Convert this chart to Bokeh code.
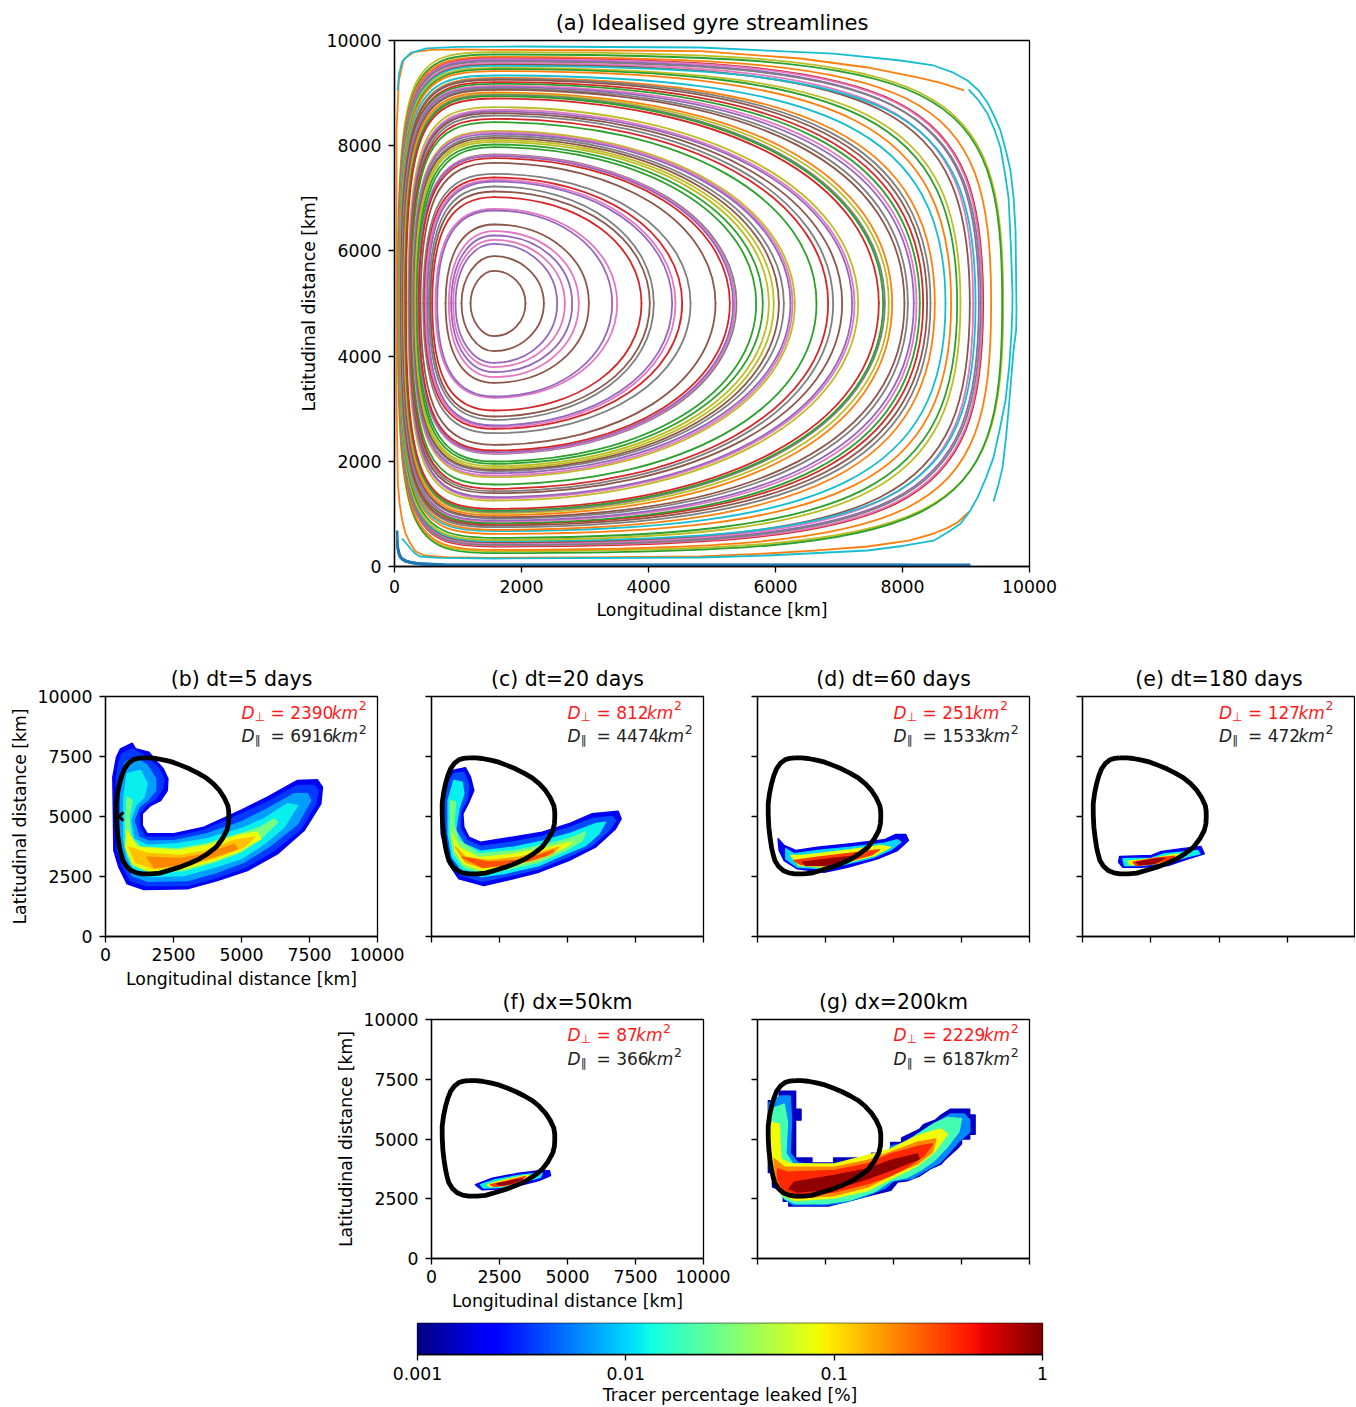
from bokeh.plotting import figure
from bokeh.layouts import column, row
from bokeh.models import Spacer, Range1d, FixedTicker
from bokeh.core.properties import value
from bokeh.embed import file_html
from bokeh.resources import INLINE
import numpy as np

FONT = "DejaVu Sans"
TAB = dict(blue="#1f77b4", orange="#ff7f0e", green="#2ca02c", red="#d62728", purple="#9467bd",
           brown="#8c564b", pink="#e377c2", gray="#7f7f7f", olive="#bcbd22", cyan="#17becf")

# ---- Panel (a): streamlines, outermost first (km)
sl_color = ["olive","green","orange","red","pink","purple","gray","pink","brown","cyan","olive","green","orange","cyan",
            "orange","gray","brown","red","green","pink","purple","gray","brown","orange","olive","gray","green","red",
            "olive","pink","purple","brown","gray","red","green","olive","pink","purple","gray","brown","olive","olive",
            "green","green","gray","pink","purple","red","brown","gray","red","pink","purple","gray","brown","red",
            "pink","purple","brown","pink","purple","pink","purple","brown","brown"]
sl_top = [9778,9734,9690,9658,9645,9620,9600,9569,9540,9518,9480,9455,9417,9335,9290,9271,9252,9208,9176,9138,9113,9087,
          9062,9011,8986,8967,8942,8897,8733,8682,8650,8618,8574,8511,8447,8283,8257,8226,8188,8149,8111,8073,8023,7972,
          7833,7820,7801,7763,7674,7465,7395,7351,7319,7224,7129,7022,6800,6768,6502,6375,6293,6210,6134,5900,5621]
sl_bottom = [292,254,317,380,399,431,410,444,460,482,507,545,621,672,697,748,780,811,824,856,875,913,938,976,1014,1039,
             1065,1096,1255,1293,1318,1394,1432,1477,1559,1698,1730,1774,1812,1838,1869,1907,1952,1996,2142,2155,2174,
             2205,2313,2535,2617,2649,2681,2788,2852,2966,3207,3232,3492,3600,3695,3790,3872,4094,4379]
sl_right = [9586,9570,9396,9270,9254,9202,9230,9113,9060,9150,8913,8861,8766,8677,8509,8441,8388,8325,8273,8220,8178,8084,
            8031,7837,7785,7722,7696,7627,7302,7244,7207,7050,6908,6829,6646,6304,6268,6236,6131,6053,5974,5895,5800,5696,
            5386,5360,5333,5281,5055,4662,4530,4425,4373,4084,4021,3890,3507,3428,3061,2903,2798,2683,2562,2352,2063]
sl_left = [50,55,58,60,62,65,66,68,70,72,75,78,82,88,95,100,105,110,115,120,125,130,135,150,155,165,170,180,215,225,230,
           240,250,258,270,285,290,295,305,315,325,335,350,368,375,378,381,384,410,452,473,489,515,541,567,594,646,672,
           804,856,893,924,961,1055,1197]
sl_corner_right = [.90,.90,.88,.86,.86,.85,.85,.84,.83,.84,.80,.79,.77,.75,.72,.71,.70,.69,.68,.67,.66,.65,.64,.62,.61,.60,
                   .60,.60,.58,.58,.58,.58,.58,.58,.58,.57,.57,.57,.57,.57,.57,.57,.57,.57,.57,.57,.57,.57,.57,.57,.57,
                   .57,.57,.57,.57,.57,.57,.57,.57,.57,.57,.56,.56,.55,.55]
sl_corner_left = [.96,.95,.95,.94,.94,.94,.94,.93,.93,.93,.93,.92,.92,.92,.91,.91,.91,.90,.90,.90,.90,.89,.89,.89,.88,.88,
                  .88,.88,.87,.86,.86,.86,.85,.85,.85,.84,.84,.84,.83,.83,.82,.82,.81,.80,.80,.80,.80,.79,.78,.77,.77,
                  .76,.76,.75,.75,.74,.72,.72,.68,.65,.64,.63,.62,.58,.56]
sl_x_extreme = 1566
sl_y_extreme = 5000

cyan_a_x = [50,70,120,250,500,1000,2000,4819,6913,7968,8488,8780,9023,9200,9338,9450,9543,9630,9700,9750,9780,9795,9790,9748,9710,9670,9630,9575,9510,9433]
cyan_a_y = [9050,9350,9600,9760,9850,9880,9886,9867,9750,9620,9525,9400,9240,9050,8820,8550,8290,7900,7530,7000,6390,4870,4500,4105,3550,2970,2450,1880,1550,1235]
cyan_b_x = [9040,9200,9338,9450,9543,9610,9670,9710,9732,9730,9716,9680,9622,9530,9433,9320,9181,9050,8913,8700,8488,8000,7449,5874,4819,1566,700,400,320,252,173,120]
cyan_b_y = [9070,8860,8610,8300,7965,7500,7015,6000,5200,4870,4430,3800,3155,2600,2075,1700,1310,1030,815,640,490,390,304,209,171,152,165,190,250,342,456,530]
orange_x = [9050,8866,8700,8488,8100,7449,6600,5874,4819,3000,1566,800,462,330,252,170,121,80,53,32,32,32,69,147,305,567,1000,1566,3000,4819,6394,7449,8236,8620,8971]
orange_y = [1045,837,730,627,490,380,300,247,190,172,165,180,209,290,431,640,875,1200,1570,3160,5057,8290,9240,9650,9778,9823,9830,9823,9815,9797,9658,9487,9297,9190,9050]
blue_x = [[42,50,90,250,500,1566,5070],[42,60,120,300,600,1566,7076],[45,70,150,350,700,1566,8073],[50,90,180,400,800,1566,9070]]
blue_y = [[685,350,170,70,30,15,15],[500,280,130,60,30,25,25],[420,220,110,60,35,30,30],[350,180,90,55,40,35,35]]

# ---- Leak-contour (black) and plume outlines, km; concentration of each nested level in %
loop_x = [1372,1620,1862,2170,2475,2780,3087,3400,3700,3960,4190,4360,4496,4530,4533,4520,4459,4290,4067,3780,3455,3100,2720,2350,1985,1680,1372,1150,943,770,637,570,515,460,417,395,392,440,515,600,698,840,1005,1180,1372]
loop_y = [7445,7440,7417,7350,7264,7130,6987,6810,6612,6370,6084,5790,5459,5220,4973,4700,4417,4060,3723,3470,3236,3050,2889,2760,2639,2610,2611,2650,2750,2930,3167,3440,3723,4140,4556,5040,5528,5950,6362,6700,6987,7210,7362,7420,7445]

b_levels = [.002,.0035,.007,.012,.03,.08,.13,.2]
b_x = [[552,982,1104,1595,1902,2123,2294,2270,2025,1656,1350,1350,1534,2515,3620,4969,5951,7055,7791,7976,7914,7301,6319,5215,4110,3006,1411,798,491,307,270,405],
       [614,982,1534,1963,2147,2086,1841,1472,1227,1252,1472,2515,3620,4969,5951,7055,7669,7816,7730,7178,6196,5153,4110,3006,1472,920,614,429,405,491],
       [736,1104,1534,1841,1841,1534,1227,1043,1227,1595,2577,3742,4969,5951,6933,7423,7546,7055,6074,5092,4110,3006,1534,982,736,552,552],
       [798,1288,1534,1411,1104,920,1043,1534,2638,3742,4969,5828,6687,7055,6565,5828,4969,3988,2883,1656,1043,798,675,675],
       [798,982,859,920,1288,2638,3742,4969,5706,6196,6319,5706,4969,3988,2883,1656,1043,822,736],
       [797,1166,2638,3742,4847,5583,5706,4847,3988,2883,1656,982,736],
       [859,1534,2761,3742,4724,5460,5092,3988,2883,1779,1104],
       [1534,2761,3742,4724,4847,3988,2883,1779]]
b_y = [[7820,8056,7820,7681,7264,6987,6570,6084,5667,5459,5112,4625,4278,4278,4556,5250,5806,6500,6528,6223,5528,4417,3445,2750,2334,1986,1958,2195,2889,3584,6639,7473],
       [7612,7820,7473,6987,6570,6153,5737,5459,5112,4556,4139,4139,4417,5084,5598,6292,6292,6084,5528,4486,3584,2889,2472,2125,2125,2334,2959,3653,6570,7264],
       [7264,7473,7126,6570,6084,5667,5390,4834,4139,3973,4000,4278,4764,5320,5945,5945,5667,4695,3792,3098,2681,2334,2306,2542,3167,3723,6362],
       [6778,6917,6362,5806,5459,4834,4070,3792,3861,4070,4486,4903,5528,5459,4556,3861,3236,2889,2542,2500,2750,3306,4000,5806],
       [5806,5667,4973,4139,3723,3653,3861,4278,4556,4903,4764,4070,3514,3098,2750,2681,2959,3584,4417],
       [4417,3723,3584,3792,4209,4348,4070,3514,3167,2820,2681,3028,3723],
       [3723,3473,3375,3584,4000,4139,3723,3264,2931,2820,3097],
       [3300,3250,3450,3850,3650,3330,3000,2880]]

c_levels = [.002,.004,.012,.03,.08,.16,.3]
c_x = [[760,1250,1433,1556,1372,1152,1188,1372,1800,2965,4067,5047,5905,6860,6970,6762,6027,5047,3945,2720,1923,1005,637,355,355,515],
       [821,1188,1372,1311,1066,1066,1311,1800,2965,4067,5047,5905,6640,6762,6517,5905,4988,3945,2720,1862,1066,698,490,490,637],
       [821,1127,1188,1005,882,1188,1800,3026,4067,5047,6027,6395,6150,5660,4925,3945,2720,1862,1127,760,612,612],
       [698,882,821,1005,1740,3087,4067,5047,5660,5537,4925,3945,2720,1862,1188,821,698],
       [760,1005,1740,3087,4067,5170,4925,3945,2720,1862,1188,882],
       [882,1250,2107,3210,4067,4680,4435,3700,2720,1862,1250],
       [1127,2107,3210,3945,4496,4190,3577,2720,1862]]
c_y = [[6917,7028,6639,6084,5598,5112,4556,4139,3931,4139,4348,4695,5112,5223,4903,4486,3723,3167,2681,2334,2125,2403,3028,4278,5667,6500],
       [6778,6848,6292,5737,5181,4486,4000,3750,3931,4167,4528,4903,5000,4834,4417,3792,3306,2820,2500,2306,2570,3167,4278,5667,6431],
       [6500,6431,5945,5320,4417,3861,3556,3723,3973,4278,4695,4764,4278,3792,3445,2959,2639,2500,2750,3306,4278,5667],
       [5667,5598,4695,4000,3445,3584,3792,4070,4348,4000,3584,3098,2778,2639,2889,3445,4278],
       [4278,3723,3278,3445,3653,3931,3723,3236,2889,2750,3028,3584],
       [3723,3306,3167,3306,3514,3723,3445,3167,2959,2861,3098],
       [3306,3098,3167,3375,3584,3375,3167,3000,2889]]

d_levels = [.002,.01,.08,.35,.85]
d_x = [[760,980,1409,2205,3430,4655,5083,5450,5549,5145,4410,3308,2450,1470,980,796],
       [1041,1348,2205,3430,4655,5145,5268,4900,4288,3308,2450,1470,1041],
       [1225,1593,2205,3430,4533,4900,4288,3308,2450,1531],
       [1348,2205,3430,4472,4227,3430,2573,1593],
       [1654,2818,3553,3185,2450,1776]]
d_y = [[4070,3792,3584,3723,3861,4028,4250,4250,4000,3584,3236,2889,2681,2820,3167,3584],
       [3653,3445,3584,3723,3889,4028,3931,3611,3306,3028,2820,2889,3236],
       [3375,3375,3445,3611,3792,3723,3375,3098,2889,2959],
       [3167,3306,3473,3611,3417,3167,2959,3000],
       [3097,3264,3347,3167,2959,2959]]

e_levels = [.002,.012,.08,.35,.85]
e_x = [[1360,2524,2891,3626,4337,4459,3871,3136,2156,1482,1323],
       [1482,2524,3014,3626,4214,4300,3871,3136,2156,1543],
       [1666,2524,3381,3871,3626,3014,2156,1727],
       [1850,2646,3381,3259,2646,1972],
       [1972,2769,3014,2646,2095]]
e_y = [[3334,3375,3542,3653,3750,3445,3236,2959,2889,2889,3097],
       [3236,3264,3445,3514,3584,3445,3334,3097,2959,2959],
       [3139,3236,3417,3445,3306,3097,3000,3000],
       [3097,3264,3347,3236,3028,2959],
       [3097,3236,3264,3056,2986]]

f_levels = [.002,.012,.08,.35,.85]
f_x = [[1617,2230,3210,3945,4337,4374,3945,3332,2597,1862],
       [1801,2352,3210,4067,4006,3332,2597,1923],
       [2046,2597,3455,3822,3332,2597,2168],
       [2168,2720,3455,3210,2658,2291],
       [2413,2965,3332,2965,2536]]
f_y = [[3084,3361,3570,3667,3667,3472,3264,3084,2917,2875],
       [3084,3292,3472,3584,3403,3195,2986,2945],
       [3084,3264,3472,3472,3264,3028,3014],
       [3084,3222,3431,3195,3056,3028],
       [3125,3250,3334,3153,3056]]

g_levels = [.0015,.006,.02,.085,.2,.4,.9]
g_x = [[400,800,800,1400,1400,1600,1600,1400,1400,2000,2000,2800,2800,4200,4200,4900,4900,5300,5300,5950,6100,6550,6750,7100,7800,7800,8000,8000,7800,7800,7500,7500,7350,7100,6900,6750,6350,5950,5500,5150,4900,4150,3350,2600,1150,1150,950,950,550,550,400],
       [420,850,1200,1250,1200,1500,2800,4200,4800,4900,5300,5900,6300,6750,7100,7600,7800,7800,7400,7100,6700,6200,5700,5000,4700,3950,3200,2500,1300,1100,800,600,420],
       [490,980,1103,1041,1300,2800,4200,4900,5300,5900,6500,7000,7500,7400,7000,6500,6000,5500,4900,4300,3400,2500,1400,1000,700,480],
       [490,796,858,1225,2818,4043,4900,5880,6738,6983,6493,5880,4900,4043,2818,1348,858,551,429],
       [612,980,2818,4043,4900,5880,6554,6431,5880,5023,4043,2818,1470,919,674],
       [735,1103,2818,4043,4900,6003,6431,6125,5513,4900,4043,2818,1470,919,735],
       [1348,2818,4043,4900,5880,5941,5023,4043,2818,1470,1164]]
g_y = [[6600,6600,7000,7000,6250,6250,5800,5800,4200,4200,4000,4000,4200,4200,4400,4400,4850,4850,5050,5400,5600,5800,6000,6250,6250,6000,6000,5200,5200,5000,5000,4800,4600,4350,4150,3950,3750,3450,3250,3200,2850,2650,2400,2200,2200,2400,2400,2800,3000,3600,3600],
       [6500,6800,6800,5800,4400,4000,3850,4100,4350,4700,4800,5200,5500,5800,6050,6050,5800,5300,4900,4500,4000,3700,3350,3250,2950,2600,2350,2250,2250,2400,2800,3600,4500],
       [6250,6459,5695,4400,3950,3900,4150,4350,4700,5200,5650,5900,5850,5300,4700,4100,3700,3400,3250,2800,2450,2300,2300,2500,3000,4000],
       [5695,5626,4167,3959,3959,4306,4584,5139,5417,5209,4445,3889,3334,2847,2528,2431,2709,3473,4445],
       [4167,3820,3820,4098,4445,4862,5000,4445,3959,3542,2986,2639,2528,2709,3334],
       [3750,3611,3681,3959,4375,4723,4792,4306,3820,3473,3125,2778,2639,2917,3334],
       [3195,3473,3750,4098,4375,4167,3750,3334,2917,2778,2917]]

panel_titles = ["(b) dt=5 days","(c) dt=20 days","(d) dt=60 days","(e) dt=180 days","(f) dx=50km","(g) dx=200km"]
d_perp = ["2390","812","251","127","87","2229"]
d_para = ["6916","4474","1533","472","366","6187"]
tracer_x = [500]
tracer_y = [5000]
cbar_ticks = [0.001, 0.01, 0.1, 1]
cbar_labels = ["0.001", "0.01", "0.1", "1"]


def jet(v):
    r = np.interp(v, [0, .35, .66, .89, 1], [0, 0, 1, 1, .5])
    g = np.interp(v, [0, .125, .375, .64, .91, 1], [0, 0, 1, 1, 0, 0])
    b = np.interp(v, [0, .11, .34, .65, 1], [.5, 1, 1, 0, 0])
    return "#%02x%02x%02x" % (int(r * 255), int(g * 255), int(b * 255))


def lev_color(c):
    return jet((np.log10(c) + 3) / 3)


def style(p, size="17.3px", tsize="20.5px"):
    p.outline_line_color = "black"
    p.outline_line_width = 1.3
    p.xgrid.visible = False
    p.ygrid.visible = False
    p.border_fill_color = None
    for ax in (p.xaxis[0], p.yaxis[0]):
        ax.major_tick_in = 0
        ax.major_tick_out = 6
        ax.major_tick_line_width = 1.3
        ax.minor_tick_line_color = None
        ax.axis_line_width = 1.3
        ax.major_label_text_font = FONT
        ax.major_label_text_font_size = size
        ax.major_label_text_color = "black"
        ax.axis_label_text_font = FONT
        ax.axis_label_text_font_size = size
        ax.axis_label_text_font_style = "normal"
        ax.axis_label_text_color = "black"
    p.title.text_font = FONT
    p.title.text_font_size = tsize
    p.title.text_font_style = "normal"
    p.title.align = "center"
    p.title.text_color = "black"
    p.title.standoff = 12


def base(title, w, h, l, r, t, b, step, xlabel=None, ylabel=None, xnums=True, ynums=True, tsize="20.5px",
         xs=5, xls=5):
    p = figure(title=title, frame_width=w, frame_height=h, min_border_left=l, min_border_right=r,
               min_border_top=t, min_border_bottom=b, toolbar_location=None, output_backend="svg",
               x_range=Range1d(0, 10000), y_range=Range1d(0, 10000))
    style(p, tsize=tsize)
    ticks = list(range(0, 10001, step))
    p.xaxis.ticker = FixedTicker(ticks=ticks)
    p.yaxis.ticker = FixedTicker(ticks=ticks)
    p.xaxis.major_label_standoff = xs
    p.yaxis.major_label_standoff = 7
    if xlabel:
        p.xaxis.axis_label = xlabel
        p.xaxis.axis_label_standoff = xls
    if ylabel:
        p.yaxis.axis_label = ylabel
        p.yaxis.axis_label_standoff = 5
    if not xnums:
        p.xaxis.major_label_overrides = {t_: "" for t_ in ticks}
    if not ynums:
        p.yaxis.major_label_overrides = {t_: "" for t_ in ticks}
    return p


def note(p, kx, ky, sub, num, color):
    common = dict(text_font=value(FONT), text_color=color, text_baseline="alphabetic")
    digits = len(num)
    pieces = [("D", 0, 0, "17px", "italic"), (sub, 13, 4, "12px", "normal"), ("= " + num, 29, 0, "17px", "normal"),
              ("km", 47 + digits * 10.8, 0, "17px", "italic"), ("2", 47 + digits * 10.8 + 27, -7, "12.5px", "normal")]
    for txt, xo, yo, fs, st in pieces:
        p.text(x=[kx], y=[ky], text=[txt], x_offset=xo, y_offset=yo, text_font_size=fs, text_font_style=st, **common)


def panel(p, xs, ys, levels, perp, para):
    cols = [lev_color(c) for c in levels]
    p.patches(xs, ys, fill_color=cols, line_color=cols, line_width=1.5, line_join="round")
    p.line(loop_x, loop_y, line_color="black", line_width=4.8, line_join="round")
    note(p, 5000, 9333, "\u22a5", perp, "#ff1a1a")
    note(p, 5000, 8342, "\u2225", para, "#222222")


# ---- Panel a
pa = base("(a) Idealised gyre streamlines", 635, 526, 394, 40, 40, 74, 2000,
          "Longitudinal distance [km]", "Latitudinal distance [km]", tsize="21px", xs=7, xls=4)
top = np.array(sl_top, float); bot = np.array(sl_bottom, float)
rgt = np.array(sl_right, float); lft = np.array(sl_left, float)
cr = np.array(sl_corner_right); cl = np.array(sl_corner_left)
colors = [TAB[c] for c in sl_color]
tx = np.full(len(top), float(sl_x_extreme)); my = np.full(len(top), float(sl_y_extreme))
ct = cl - 0.08
for x0, y0, x1, y1, cx0, cy0, cx1, cy1 in [
    (tx, top, rgt, my, tx + cr * (rgt - tx), top, rgt, my + cr * (top - my)),
    (rgt, my, tx, bot, rgt, my - cr * (my - bot), tx + cr * (rgt - tx), bot),
    (tx, bot, lft, my, tx - ct * (tx - lft), bot, lft, my - cl * (my - bot)),
    (lft, my, tx, top, lft, my + cl * (top - my), tx - ct * (tx - lft), top),
]:
    pa.bezier(x0=x0, y0=y0, x1=x1, y1=y1, cx0=cx0, cy0=cy0, cx1=cx1, cy1=cy1, line_color=colors, line_width=1.8,
              line_cap="round")
pa.line(orange_x, orange_y, line_color=TAB["orange"], line_width=1.8, line_join="round")
pa.line(cyan_a_x, cyan_a_y, line_color=TAB["cyan"], line_width=1.8, line_join="round")
pa.line(cyan_b_x, cyan_b_y, line_color=TAB["cyan"], line_width=1.8, line_join="round")
pa.multi_line(blue_x, blue_y, line_color=TAB["blue"], line_width=2.5)

# ---- Row 2
pb = base(panel_titles[0], 272, 240, 105, 27, 56, 54, 2500, "Longitudinal distance [km]", "Latitudinal distance [km]")
panel(pb, b_x, b_y, b_levels, d_perp[0], d_para[0])
pb.scatter(tracer_x, tracer_y, marker="x", size=12, line_color="black", line_width=3)
pc = base(panel_titles[1], 272, 240, 27, 27, 56, 54, 2500, xnums=False, ynums=False)
panel(pc, c_x, c_y, c_levels, d_perp[1], d_para[1])
pd_ = base(panel_titles[2], 272, 240, 27, 26, 56, 54, 2500, xnums=False, ynums=False)
panel(pd_, d_x, d_y, d_levels, d_perp[2], d_para[2])
pe = base(panel_titles[3], 273, 240, 27, 0, 56, 54, 2500, xnums=False, ynums=False)
panel(pe, e_x, e_y, e_levels, d_perp[3], d_para[3])

# ---- Row 3
pf = base(panel_titles[4], 272, 239, 101, 27, 29, 54, 2500, "Longitudinal distance [km]", "Latitudinal distance [km]")
panel(pf, f_x, f_y, f_levels, d_perp[4], d_para[4])
pg = base(panel_titles[5], 272, 239, 27, 10, 29, 54, 2500, xnums=False, ynums=False)
panel(pg, g_x, g_y, g_levels, d_perp[5], d_para[5])

# ---- Colour bar
cb = figure(frame_width=625, frame_height=31, min_border_left=417, min_border_right=40, min_border_top=10,
            min_border_bottom=52, x_axis_type="log", x_range=Range1d(0.001, 1), y_range=Range1d(0, 1),
            toolbar_location=None, output_backend="svg")
style(cb)
edges = np.logspace(-3, 0, 257)
cb_cols = [jet(i / 255) for i in range(256)]
cb.quad(left=edges[:-1], right=edges[1:], bottom=0, top=1, fill_color=cb_cols, line_color=cb_cols, line_width=1.5)
cb.yaxis.visible = False
cb.xaxis.ticker = FixedTicker(ticks=cbar_ticks)
cb.xaxis.major_label_overrides = {t: s for t, s in zip(cbar_ticks, cbar_labels)}
cb.xaxis.axis_label = "Tracer percentage leaked [%]"
cb.xaxis.axis_label_standoff = 2
cb.xaxis.major_label_standoff = 6

page = column(row(pa),
              row(pb, pc, pd_, pe, spacing=0),
              row(Spacer(width=330, height=1), pf, pg, spacing=0, margin=(-10, 0, 0, 0)),
              row(cb), spacing=0)
open("out.html", "w").write(file_html(page, INLINE))
